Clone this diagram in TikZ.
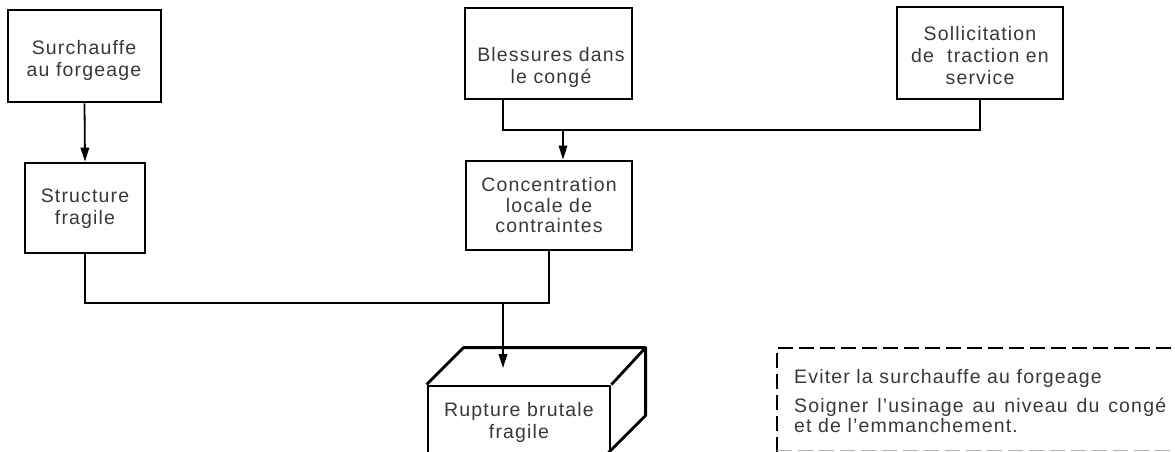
\documentclass[tikz,border=0pt]{standalone}
\usepackage{fontspec}
\setmainfont{Liberation Sans}[LetterSpace=6]
\usetikzlibrary{arrows.meta,calc}
\begin{document}
\begin{tikzpicture}[x=1pt,y=-1pt,
  txt/.style={font=\fontsize{19.5}{22}\selectfont, text=black!78, align=center, inner sep=0pt},
  causebox/.style={draw, line width=2.8pt, inner sep=0pt},
  boxline/.style={line width=2.8pt, line join=round},
  link/.style={line width=1.8pt},
  arr/.style={link, -{Triangle[length=14pt,width=8.5pt]}},
  remedy/.style={line width=1.8pt, dash pattern=on 15pt off 6pt}]
\useasboundingbox (0,0) rectangle (1175,452);
\clip (0,0) rectangle (1175,452);
% cause boxes
\node[causebox, minimum width=153pt, minimum height=92pt] (s1) at (84.5,56) {};
\node[causebox, minimum width=120pt, minimum height=90pt] (s2) at (85,208) {};
\node[causebox, minimum width=167pt, minimum height=91pt] (b1) at (548.5,53.5) {};
\node[causebox, minimum width=166pt, minimum height=89pt] (c1) at (549,205.5) {};
\node[causebox, minimum width=166pt, minimum height=92pt] (t1) at (980,53) {};
% texts
\node[txt] (s1t) at (84,60.5) {Surchauffe\\au forgeage};
\node[txt] (s2t) at (85,209) {Structure\\fragile};
\node[txt] (b1t) at (551,67.5) {Blessures dans\\le congé};
\node[txt, font=\fontsize{19.5}{20.5}\selectfont] (c1t) at (549,205.5) {Concentration\\locale de\\contraintes};
\node[txt] (t1t) at (980,55.5) {Sollicitation\\de\ \ traction en\\service};
% 3D box
\node[causebox, minimum width=182pt, minimum height=72pt] (r1) at (519,422) {};
\draw[boxline] (r1.north west) -- ++(37,-37) coordinate (r1a) -- ++(182,0) coordinate (r1b) -- (r1.north east);
\draw[boxline] (r1b) -- ++(0,68) -- ++(-37,37);
\node[txt] (r1t) at (519,422) {Rupture brutale\\fragile};
% connectors
\draw[arr] (s1.south) -- (s2.north);
\coordinate (j1) at (563,130);
\draw[link] ($(b1.south)+(-45.5,0)$) |- (j1) -| (t1.south);
\draw[arr] (j1) -- (j1 |- c1.north);
\coordinate (j2) at (503,303);
\coordinate (r0) at (503,368);
\draw[link] (s2.south) |- (j2) -| (c1.south);
\draw[arr] (j2) -- (r0);
% remedy box
\coordinate (d0) at (777,348);
\draw[remedy] (777,452) -- (d0) -- (1185,348);
\draw[remedy, draw=black!30, line width=1pt] (777,450) -- (1185,450);
\node[txt, font=\fontsize{19.5}{20}\selectfont, align=left, anchor=north west] (n1) at (794,369)
  {Eviter la surchauffe au forgeage\\[9pt]\makebox[372pt][s]{Soigner l’usinage au niveau du congé}\\et de l’emmanchement.};
\end{tikzpicture}
\end{document}
